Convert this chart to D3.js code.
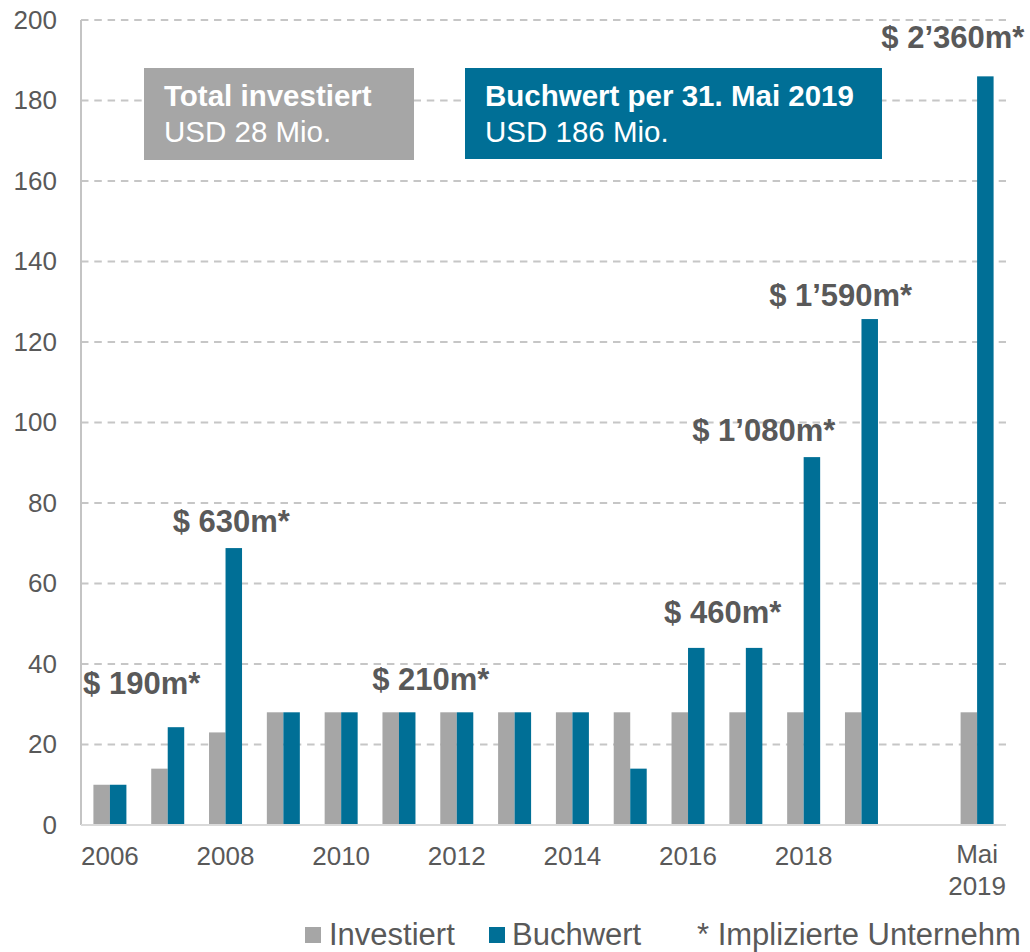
<!DOCTYPE html>
<html>
<head>
<meta charset="utf-8">
<script src="https://cdn.jsdelivr.net/npm/d3@7"></script>
<style>
  html, body { margin: 0; padding: 0; background: #ffffff; }
  svg { display: block; font-family: "Liberation Sans", Arial, Helvetica, sans-serif; }
</style>
</head>
<body>
<svg id="chart" width="1030" height="952"></svg>
<script>
// Categories (one slot per period; the slot before "Mai 2019" stays empty)
const categories = ["2006","2007","2008","2009","2010","2011","2012","2013","2014","2015","2016","2017","2018","2019","leer","Mai 2019"];
const tickLabels = ["2006","","2008","","2010","","2012","","2014","","2016","","2018","","","Mai\n2019"];

// Series values in USD Mio.
const seriesNames = ["Investiert","Buchwert"];
const investiert = [10, 14, 23, 28, 28, 28, 28, 28, 28, 28, 28, 28, 28, 28, null, 28];
const buchwert   = [10, 24.3, 68.8, 28, 28, 28, 28, 28, 28, 14, 44, 44, 91.4, 125.7, null, 186];

// Y-axis ticks
const yTicks = [0, 20, 40, 60, 80, 100, 120, 140, 160, 180, 200];

// Implied company valuation notes: text, anchor category, horizontal shift (in slots), baseline level (axis units)
const noteTexts    = ["$ 190m*", "$ 630m*", "$ 210m*", "$ 460m*", "$ 1\u2019080m*", "$ 1\u2019590m*", "$ 2\u2019360m*"];
const noteCategory = ["2007", "2008", "2012", "2017", "2018", "2019", "Mai 2019"];
const noteShift    = [-0.45, 0.1, -0.45, -0.4, -0.69, -0.36, -0.42];
const noteLevel    = [32.5, 72.8, 33.5, 50.2, 95.4, 128.9, 193];

// Summary boxes
const boxTitles = ["Total investiert", "Buchwert per 31. Mai 2019"];
const boxValues = ["USD 28 Mio.", "USD 186 Mio."];

// Legend
const legendNote = "* Implizierte Unternehm";

// ---- layout & style ----
const colors = { Investiert: "#a6a6a6", Buchwert: "#006f96" };
const textGrey = "#595959";
const plot = { left: 81, right: 1006, top: 20, bottom: 825 };

const svg = d3.select("#chart");

const x = d3.scaleBand().domain(categories).range([plot.left, plot.right]).paddingInner(0).paddingOuter(0);
const groupWidth = 33;
const x1 = d3.scaleBand().domain(seriesNames).range([0, groupWidth]);
const y = d3.scaleLinear().domain([0, 200]).range([plot.bottom, plot.top]);

const rows = categories.map((c, i) => ({ cat: c, Investiert: investiert[i], Buchwert: buchwert[i] }));

// Grid lines
svg.append("g")
  .selectAll("line")
  .data(yTicks.filter(t => t > 0))
  .join("line")
  .attr("x1", plot.left).attr("x2", plot.right)
  .attr("y1", d => y(d)).attr("y2", d => y(d))
  .attr("stroke", "#c6c6c6")
  .attr("stroke-width", 2)
  .attr("stroke-dasharray", "7.5,5.8");

// Y axis
const yAxis = d3.axisLeft(y).tickValues(yTicks).tickSize(0).tickPadding(24);
const gy = svg.append("g").attr("transform", `translate(${plot.left},0)`).call(yAxis);
gy.select(".domain").remove();
gy.selectAll("text")
  .attr("fill", textGrey)
  .style("font-size", "26px")
  .style("font-family", "'Liberation Sans', Arial, sans-serif");

svg.append("line")
  .attr("x1", plot.left).attr("x2", plot.left)
  .attr("y1", y(200)).attr("y2", y(0))
  .attr("stroke", "#c4c4c4").attr("stroke-width", 2);

// Bars
const groups = svg.append("g")
  .selectAll("g")
  .data(rows)
  .join("g")
  .attr("transform", d => `translate(${x(d.cat) + (x.bandwidth() - groupWidth) / 2},0)`);

groups.selectAll("rect")
  .data(d => seriesNames.filter(s => d[s] != null).map(s => ({ key: s, value: d[s] })))
  .join("rect")
  .attr("x", d => x1(d.key))
  .attr("width", x1.bandwidth())
  .attr("y", d => y(d.value))
  .attr("height", d => y(0) - y(d.value))
  .attr("fill", d => colors[d.key]);

// X baseline
svg.append("line")
  .attr("x1", plot.left).attr("x2", plot.right)
  .attr("y1", y(0)).attr("y2", y(0))
  .attr("stroke", "#d9d9d9").attr("stroke-width", 2);

// X axis labels
const xAxis = d3.axisBottom(x).tickSize(0).tickPadding(0).tickFormat(() => "");
const gx = svg.append("g").attr("transform", `translate(0,${y(0)})`).call(xAxis);
gx.select(".domain").remove();
gx.selectAll(".tick text").each(function(d) {
  const label = tickLabels[categories.indexOf(d)];
  const t = d3.select(this)
    .attr("fill", textGrey)
    .attr("y", 0)
    .attr("dy", null)
    .style("font-size", "26px")
    .style("font-family", "'Liberation Sans', Arial, sans-serif")
    .text(null);
  label.split("\n").forEach((line, k, arr) => {
    if (!line) return;
    t.append("tspan").attr("x", 0).attr("y", arr.length > 1 ? 38 + k * 32 : 40).text(line);
  });
});

// Valuation notes
svg.append("g")
  .selectAll("text")
  .data(noteTexts.map((t, i) => ({ text: t, cat: noteCategory[i], shift: noteShift[i], level: noteLevel[i] })))
  .join("text")
  .attr("x", d => x(d.cat) + x.bandwidth() / 2 + d.shift * x.step())
  .attr("y", d => y(d.level))
  .attr("text-anchor", "middle")
  .attr("fill", textGrey)
  .style("font-size", "31px")
  .style("font-weight", "bold")
  .text(d => d.text);

// Summary boxes
const boxes = [
  { x: 144, y: 68, w: 270, h: 92, fill: colors.Investiert },
  { x: 465, y: 68, w: 417, h: 91, fill: colors.Buchwert }
];
boxes.forEach((b, i) => {
  svg.append("rect").attr("x", b.x).attr("y", b.y).attr("width", b.w).attr("height", b.h).attr("fill", b.fill);
  svg.append("text")
    .attr("x", b.x + 20).attr("y", 106)
    .attr("fill", "#ffffff")
    .style("font-size", "29.5px").style("font-weight", "bold")
    .text(boxTitles[i]);
  svg.append("text")
    .attr("x", b.x + 20).attr("y", 142)
    .attr("fill", "#ffffff")
    .style("font-size", "29.5px")
    .text(boxValues[i]);
});

// Legend
const legend = svg.append("g");
const legendItems = [
  { name: "Investiert", sx: 305, tx: 329 },
  { name: "Buchwert", sx: 489, tx: 512 }
];
legendItems.forEach(it => {
  legend.append("rect").attr("x", it.sx).attr("y", 927).attr("width", 16).attr("height", 16).attr("fill", colors[it.name]);
  legend.append("text").attr("x", it.tx).attr("y", 945)
    .attr("fill", textGrey).style("font-size", "31px").text(it.name);
});
legend.append("text").attr("x", 697).attr("y", 945)
  .attr("fill", textGrey).style("font-size", "31px").text(legendNote);
</script>
</body>
</html>
